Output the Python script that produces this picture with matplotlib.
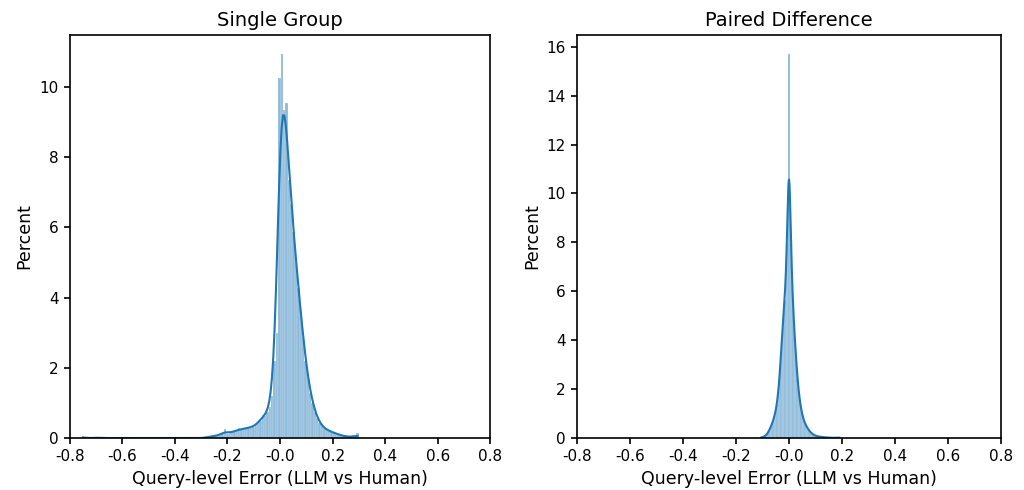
import numpy as np
import pandas as pd
import matplotlib
matplotlib.use("Agg")
import matplotlib.pyplot as plt
import seaborn as sns

# ---------------- data (percent per bin) ----------------
single_start = -0.7495      # centre of first bin
single_width = 0.009
single_pct = (
    [0.05] + [0.0] * 5 + [0.03] + [0.0] * 45 +
    [0.02, 0.03, 0.05, 0.04, 0.08, 0.06, 0.10, 0.12,            # -0.282 .. -0.219
     0.25, 0.13, 0.15, 0.17, 0.19, 0.20, 0.30, 0.22, 0.25, 0.28,  # -0.210 .. -0.129
     0.33, 0.28, 0.33, 0.37, 0.44, 0.50, 0.66, 0.62, 0.74, 0.88,  # -0.120 .. -0.039
     1.20, 2.20, 3.00, 10.30, 11.00, 9.40, 9.60,                  # -0.030 .. 0.025
     7.40, 6.70, 5.90, 5.10, 4.30, 3.60, 2.90, 2.20, 1.75, 1.30,  # 0.034 .. 0.115
     1.00, 0.75, 0.58, 0.42, 0.34, 0.28, 0.24, 0.20, 0.18, 0.15,  # 0.124 .. 0.205
     0.13, 0.10, 0.08, 0.06, 0.05, 0.04, 0.03, 0.03, 0.05, 0.15]  # 0.214 .. 0.295
)

paired_start = -0.105
paired_width = 0.005
paired_pct = [
    0.02, 0.04, 0.06, 0.08, 0.12, 0.20, 0.32, 0.42, 0.55, 0.70,   # -0.105 .. -0.060
    0.90, 1.10, 1.40, 1.90, 2.50, 3.50, 4.40, 5.30, 5.70, 7.00,   # -0.055 .. -0.010
    8.00, 15.80, 8.00, 6.80, 5.50, 4.30, 3.60, 2.70, 2.00, 1.60,  # -0.005 .. 0.040
    1.20, 0.95, 0.75, 0.60, 0.50, 0.40, 0.33, 0.25, 0.20, 0.15,   # 0.045 .. 0.090
    0.12, 0.10, 0.08, 0.07, 0.06, 0.05, 0.04, 0.04, 0.03, 0.03,   # 0.095 .. 0.140
    0.02, 0.02, 0.02, 0.01, 0.01, 0.01, 0.01, 0.01, 0.02, 0.03,   # 0.145 .. 0.190
]

x_ticks = [-0.8, -0.6, -0.4, -0.2, 0.0, 0.2, 0.4, 0.6, 0.8]
x_tick_labels = ["-0.8", "-0.6", "-0.4", "-0.2", "-0.0", "0.2", "0.4", "0.6", "0.8"]
titles = ["Single Group", "Paired Difference"]
x_label = "Query-level Error (LLM vs Human)"
y_label = "Percent"

# ---------------- plotting ----------------
plt.rcParams["font.family"] = ["DejaVu Sans"]
plt.rcParams["axes.linewidth"] = 1.2
plt.rcParams["xtick.major.width"] = 1.2
plt.rcParams["ytick.major.width"] = 1.2

fig = plt.figure(figsize=(10.24, 4.9), dpi=100)
ax1 = fig.add_axes([0.068, 0.106, 0.411, 0.823])
ax2 = fig.add_axes([0.5635, 0.106, 0.414, 0.823])


def draw(ax, start, width, pct, bw_adjust, title, edge_lw):
    pct = np.asarray(pct, dtype=float)
    centers = start + width * np.arange(len(pct))
    df = pd.DataFrame({"err": centers, "w": pct})
    lo = centers[0] - width / 2
    hi = centers[-1] + width / 2
    sns.histplot(data=df, x="err", weights="w", bins=len(pct), binrange=(lo, hi),
                 stat="percent", kde=True, kde_kws={"bw_adjust": bw_adjust},
                 color="C0", edgecolor="white", linewidth=edge_lw, ax=ax)
    ax.set_xlim(-0.8, 0.8)
    ax.set_xticks(x_ticks)
    ax.set_xticklabels(x_tick_labels)
    ax.set_title(title, fontsize=14)
    ax.set_xlabel(x_label, fontsize=12.5)
    ax.set_ylabel(y_label, fontsize=12.5)
    ax.tick_params(labelsize=11, length=4.5)


draw(ax1, single_start, single_width, single_pct, 0.35, titles[0], 0.15)
draw(ax2, paired_start, paired_width, paired_pct, 0.32, titles[1], 0.1)

fig.savefig("out.png", dpi=100)
